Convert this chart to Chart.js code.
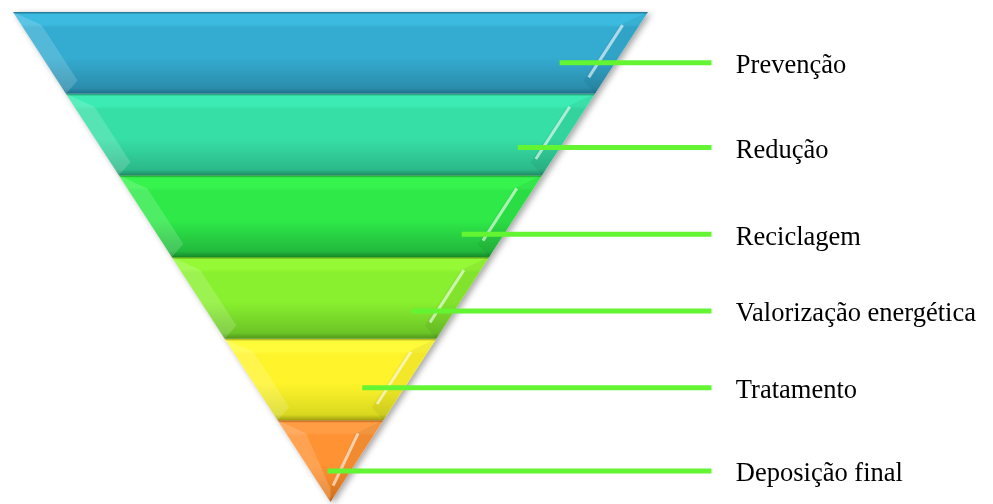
<!DOCTYPE html>
<html>
<head>
<meta charset="utf-8">
<script src="https://cdn.jsdelivr.net/npm/chart.js@4.4.1/dist/chart.umd.min.js"></script>
<style>
  html, body { margin: 0; padding: 0; background: #fff; }
  canvas { display: block; }
</style>
</head>
<body>
<canvas id="pyramid_chart" width="993" height="504"></canvas>
<script>
// levels of the inverted pyramid, top to bottom
var categories = ["Prevenção", "Redução", "Reciclagem", "Valorização energética", "Tratamento", "Deposição final"];
var bandTop = [6, 5, 4, 3, 2, 1];
var bandBottom = [5, 4, 3, 2, 1, 0];

// style / layout
var bandColors = [
    { edge: '#1f6f8a', light: '#3cbae0', main: '#34acd1', dark: '#2b8dac' },
    { edge: '#1e8a66', light: '#3bebb3', main: '#36dfa6', dark: '#2cb98a' },
    { edge: '#178a2a', light: '#36f34e', main: '#2ee948', dark: '#22b93d' },
    { edge: '#4f9619', light: '#95f935', main: '#89f02f', dark: '#6cc526' },
    { edge: '#9f9f0e', light: '#fffb3a', main: '#fff42b', dark: '#d9d81f' },
    { edge: '#b4580f', light: '#ff9d45', main: '#ff9232', dark: '#e27b21' }
];
var leaderColor = '#63f432';
var pointerDepth = [0.62, 0.66, 0.72, 0.66, 0.6, 0.62]; // how far down each band the leader sits
var leaderEnd = 7.2;       // x (funnel units) where leader lines stop
var labelX = 7.66;

function bandFill(i) {
    return function (ctx) {
        var chart = ctx.chart;
        var c = bandColors[i];
        if (!chart.chartArea || !chart.scales.y) return c.main;
        var top = chart.scales.y.getPixelForValue(bandTop[i]);
        var bot = chart.scales.y.getPixelForValue(bandBottom[i]);
        var g = chart.ctx.createLinearGradient(0, top, 0, bot);
        g.addColorStop(0, c.edge);
        g.addColorStop(0.03, c.light);
        g.addColorStop(0.15, c.light);
        g.addColorStop(0.19, c.main);
        g.addColorStop(0.55, c.main);
        g.addColorStop(0.93, c.dark);
        g.addColorStop(1, c.edge);
        return g;
    };
}

function bandShape(i) {
    var t = bandTop[i], b = bandBottom[i];
    return [{ x: -t, y: t }, { x: t, y: t }, { x: b, y: b }, { x: -b, y: b }, { x: -t, y: t }];
}

function facetShape(i, side) {
    var t = bandTop[i], b = bandBottom[i];
    var dv = 0.16, hi = 0.38;
    return [
        { x: side * t, y: t },
        { x: side * (t - dv - hi), y: t - dv },
        { x: side * Math.max(b + dv - hi, 0), y: b + dv },
        { x: side * b, y: b },
        { x: side * t, y: t }
    ];
}

function streakShape(i) {
    var y1 = bandTop[i] - 0.16, y2 = bandTop[i] - 0.8;
    return [{ x: y1 - 0.32, y: y1 }, { x: Math.max(y2 - 0.32, 0.05), y: y2 }];
}

function leaderShape(i) {
    var y = bandTop[i] - pointerDepth[i];
    var inset = i === 0 ? 1.05 : Math.min(0.8, y * 1.15);
    return [{ x: y - inset, y: y }, { x: leaderEnd, y: y }];
}

var datasets = [];
categories.forEach(function (name, i) {
    datasets.push({
        label: name,
        data: bandShape(i),
        showLine: true, fill: 'shape', borderWidth: 0,
        backgroundColor: bandFill(i), borderColor: 'rgba(0,0,0,0)',
        pointRadius: 0, order: 40
    });
    datasets.push({
        data: facetShape(i, -1),
        showLine: true, fill: 'shape', borderWidth: 0,
        backgroundColor: 'rgba(255,255,255,0.16)', borderColor: 'rgba(0,0,0,0)',
        pointRadius: 0, order: 30
    });
    datasets.push({
        data: facetShape(i, 1),
        showLine: true, fill: 'shape', borderWidth: 0,
        backgroundColor: 'rgba(0,0,0,0.05)', borderColor: 'rgba(0,0,0,0)',
        pointRadius: 0, order: 30
    });
    datasets.push({
        data: streakShape(i),
        showLine: true, fill: false, borderWidth: 3,
        borderColor: 'rgba(255,255,255,0.6)',
        pointRadius: 0, order: 20
    });
    datasets.push({
        data: leaderShape(i),
        showLine: true, fill: false, borderWidth: 5,
        borderColor: leaderColor, borderCapStyle: 'butt',
        pointRadius: 0, order: 10
    });
});

var shadowAndLabels = {
    id: 'shadowAndLabels',
    beforeDatasetsDraw: function (chart) {
        var x = chart.scales.x, y = chart.scales.y, ctx = chart.ctx;
        ctx.save();
        ctx.shadowColor = 'rgba(0,0,0,0.35)';
        ctx.shadowBlur = 6;
        ctx.shadowOffsetX = 3;
        ctx.shadowOffsetY = 2;
        ctx.fillStyle = '#fff';
        ctx.beginPath();
        ctx.moveTo(x.getPixelForValue(-6), y.getPixelForValue(6));
        ctx.lineTo(x.getPixelForValue(6), y.getPixelForValue(6));
        ctx.lineTo(x.getPixelForValue(0), y.getPixelForValue(0));
        ctx.closePath();
        ctx.fill();
        ctx.restore();
    },
    afterDatasetsDraw: function (chart) {
        var x = chart.scales.x, y = chart.scales.y, ctx = chart.ctx;
        ctx.save();
        ctx.font = '26.5px "Liberation Serif", "Times New Roman", serif';
        ctx.fillStyle = '#000';
        ctx.textBaseline = 'alphabetic';
        ctx.textAlign = 'left';
        categories.forEach(function (name, i) {
            var py = y.getPixelForValue(bandTop[i] - pointerDepth[i]) + 10.5;
            ctx.fillText(name, x.getPixelForValue(labelX), py);
        });
        ctx.restore();
    }
};

new Chart(document.getElementById("pyramid_chart").getContext("2d"), {
    type: 'scatter',
    data: { datasets: datasets },
    options: {
        responsive: false,
        animation: false,
        devicePixelRatio: 1,
        layout: { padding: { left: 13, right: 13, top: 12, bottom: 2 } },
        elements: { line: { tension: 0 } },
        scales: {
            x: { type: 'linear', min: -6, max: 12.274, display: false },
            y: { type: 'linear', min: 0, max: 6, display: false }
        },
        plugins: {
            legend: { display: false },
            tooltip: { enabled: false }
        },
        events: []
    },
    plugins: [shadowAndLabels]
});
</script>
</body>
</html>
